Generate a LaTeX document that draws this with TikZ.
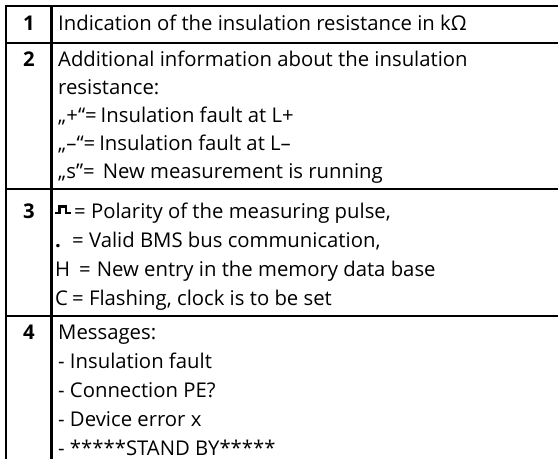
\documentclass[tikz,border=0pt]{standalone}
\usepackage{fontspec}
\setmainfont{Open Sans}
\begin{document}
\begin{tikzpicture}[x=1pt,y=-1pt,
    grid/.style={line width=2.2pt},
    pulse/.style={line width=2.2pt},
    number/.style={anchor=base,inner sep=0pt,font=\fontsize{20.3}{24}\selectfont\bfseries},
    entry/.style={anchor=base west,inner sep=0pt,font=\fontsize{20.3}{24}\selectfont}]
  \useasboundingbox (0,0) rectangle (558,459);
  \draw[grid] (6,459) -- (6,6) -- (558,6);
  \draw[grid] (51.5,6) -- (51.5,459);
  \draw[grid] (6,43) -- (558,43);
  \draw[grid] (6,189) -- (558,189);
  \draw[grid] (6,316) -- (558,316);
  \node[number] (n1) at (29,30) {1};
  \node[number] (n2) at (29,66) {2};
  \node[number] (n3) at (29,218) {3};
  \node[number] (n4) at (29,339) {4};
  \node[entry] (a) at (58,30) {Indication of the insulation resistance in kΩ};
  \node[entry] (b1) at (58,66) {Additional information about the insulation};
  \node[entry] (b2) at (58,94) {resistance:};
  \node[entry] (b3) at (58,122) {„+“=\hspace{4pt}Insulation fault at L+};
  \node[entry] (b4) at (58,150) {„–“=\hspace{4pt}Insulation fault at L–};
  \node[entry] (b5) at (58,178) {„s"=\hspace{8pt}New measurement is running};
  \draw[pulse] (55,213) -- (59.5,213) -- (59.5,206.5) -- (66,206.5) -- (66,213) -- (71,213);
  \node[entry] (c1) at (74,218) {= Polarity of the measuring pulse,};
  \node[entry] (dot) at (55,247) {\textbf{.}};
  \node[entry] (c2) at (72,247) {= Valid BMS bus communication,};
  \node[entry] (h) at (55,276) {H};
  \node[entry] (c3) at (79,276) {=\hspace{6pt}New entry in the memory data base};
  \node[entry] (c) at (55,305) {C};
  \node[entry] (c4) at (72,305) {= Flashing, clock is to be set};
  \node[entry] (d1) at (58,339) {Messages:};
  \node[entry] (d2) at (58,368) {- Insulation fault};
  \node[entry] (d3) at (58,397) {- Connection PE?};
  \node[entry] (d4) at (58,426) {- Device error x};
  \node[entry] (d5) at (58,455) {- *****STAND BY*****};
\end{tikzpicture}
\end{document}
